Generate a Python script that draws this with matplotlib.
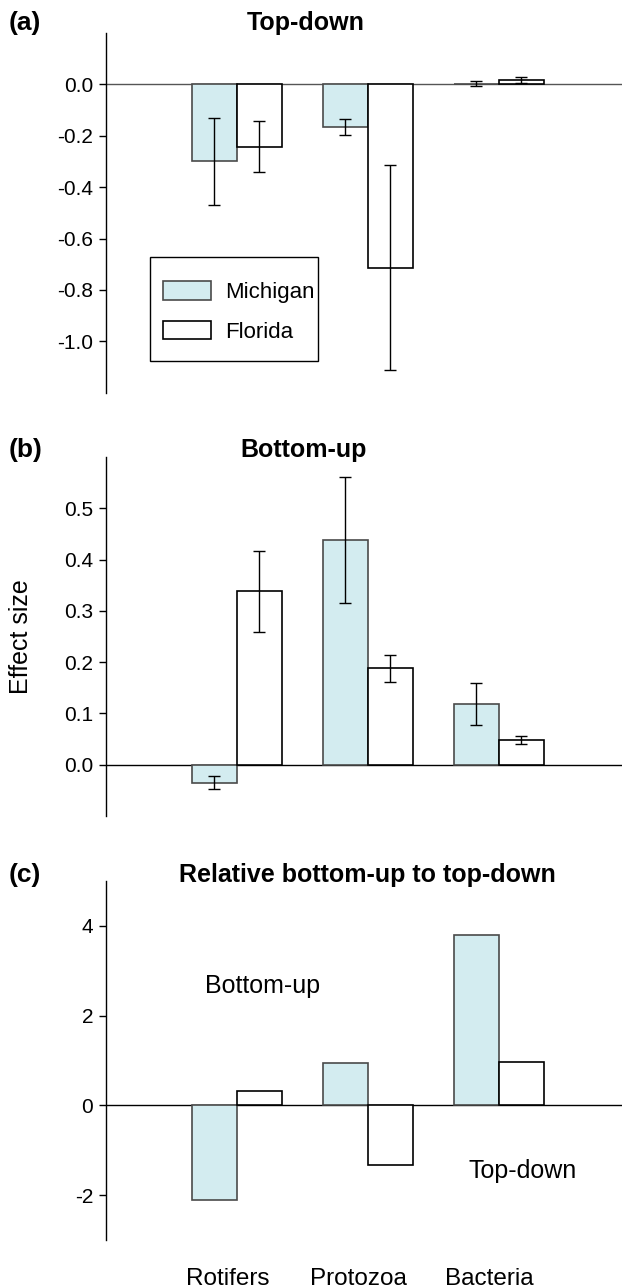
import matplotlib
matplotlib.use('Agg')
import matplotlib.pyplot as plt
from matplotlib.patches import Rectangle
import numpy as np

plt.rcParams['font.family'] = ['Liberation Sans', 'DejaVu Sans']

groups = ['Rotifers', 'Protozoa', 'Bacteria']

# (a) top-down effect sizes
td_mi = [-0.30, -0.166, 0.003]
td_mi_err = [0.17, 0.03, 0.011]
td_fl = [-0.243, -0.713, 0.017]
td_fl_err = [0.10, 0.40, 0.013]

# (b) bottom-up effect sizes
bu_mi = [-0.035, 0.439, 0.119]
bu_mi_err = [0.012, 0.123, 0.041]
bu_fl = [0.338, 0.188, 0.048]
bu_fl_err = [0.08, 0.026, 0.008]

# (c) relative bottom-up to top-down
rel_mi = [-2.12, 0.94, 3.80]
rel_fl = [0.31, -1.34, 0.97]

MI_COL = '#d3ecf0'
W = 0.345
x = np.arange(1, 4)

fig = plt.figure(figsize=(6.22, 12.88), dpi=100)

def panel(rect, ylim, yticks, ylabels, mi, fl, mi_err=None, fl_err=None):
    ax = fig.add_axes(rect)
    ax.set_xlim(0, 3.94)
    ax.set_ylim(*ylim)
    ax.axhline(0, color='black', lw=1.0, zorder=1)
    bm = ax.bar(x - W / 2, mi, W, color=MI_COL, edgecolor='#4a4a4a', lw=1.2, zorder=2, label='Michigan')
    bf = ax.bar(x + W / 2, fl, W, color='white', edgecolor='black', lw=1.2, zorder=2, label='Florida')
    if mi_err is not None:
        ax.errorbar(x - W / 2, mi, yerr=mi_err, fmt='none', ecolor='black', elinewidth=1.0, capsize=4.5, capthick=1.0, zorder=3)
        ax.errorbar(x + W / 2, fl, yerr=fl_err, fmt='none', ecolor='black', elinewidth=1.0, capsize=4.5, capthick=1.0, zorder=3)
    for s in ['top', 'right', 'bottom']:
        ax.spines[s].set_visible(False)
    ax.spines['left'].set_linewidth(1.0)
    ax.set_yticks(yticks)
    ax.set_yticklabels(ylabels)
    ax.tick_params(axis='y', direction='out', length=5, width=1.0, labelsize=15, pad=4)
    ax.tick_params(axis='x', length=0)
    ax.set_xticks([])
    return ax, bm, bf

# panel a
ax1, bm, bf = panel([0.170, 0.695, 0.830, 0.2795], (-1.2, 0.2),
                    [0.0, -0.2, -0.4, -0.6, -0.8, -1.0],
                    ['0.0', '-0.2', '-0.4', '-0.6', '-0.8', '-1.0'],
                    td_mi, td_fl, td_mi_err, td_fl_err)
ax1.lines[0].set_color('#555555')
ax1.add_patch(Rectangle((0.085, 0.089), 0.327, 0.289, transform=ax1.transAxes,
                        fill=False, edgecolor='black', lw=1.0, zorder=5))
ax1.legend(handles=[bm, bf], loc='upper left', bbox_to_anchor=(0.11, 0.31),
           frameon=False, fontsize=16, handlelength=2.2, handleheight=0.9,
           handletextpad=0.6, labelspacing=0.8, borderpad=0, borderaxespad=0)

# panel b
ax2, _, _ = panel([0.170, 0.3665, 0.830, 0.2785], (-0.1, 0.6),
                  [0.0, 0.1, 0.2, 0.3, 0.4, 0.5],
                  ['0.0', '0.1', '0.2', '0.3', '0.4', '0.5'],
                  bu_mi, bu_fl, bu_mi_err, bu_fl_err)
ax2.set_ylabel('Effect size', fontsize=18)
ax2.yaxis.set_label_coords(-0.141, 0.5)

# panel c
ax3, _, _ = panel([0.170, 0.0373, 0.830, 0.2787], (-3, 5),
                  [-2, 0, 2, 4], ['-2', '0', '2', '4'],
                  rel_mi, rel_fl)
ax3.text(1.2, 2.66, 'Bottom-up', fontsize=18, ha='center', va='center')
ax3.text(3.18, -1.46, 'Top-down', fontsize=18, ha='center', va='center')
ax3.set_xticks(x - 0.07)
ax3.set_xticklabels(groups, fontsize=17.5)
ax3.tick_params(axis='x', length=0, pad=20)

# panel letters and titles
for lab, title, ypx, tx in [('(a)', 'Top-down', 23, 306),
                            ('(b)', 'Bottom-up', 450, 304),
                            ('(c)', 'Relative bottom-up to top-down', 875, 367)]:
    fig.text(9 / 622, 1 - ypx / 1288, lab, fontsize=19, fontweight='bold', ha='left', va='center')
    fig.text(tx / 622, 1 - ypx / 1288, title, fontsize=18, fontweight='bold', ha='center', va='center')

fig.savefig('out.png', dpi=100)
